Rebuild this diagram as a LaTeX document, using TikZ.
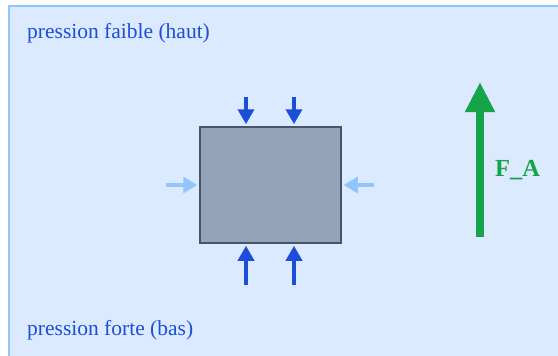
\documentclass[tikz,border=0pt]{standalone}
\usepackage{fontspec}
\setmainfont{Liberation Serif}
\usetikzlibrary{arrows.meta,positioning}
\definecolor{bgblue}{HTML}{DBEAFE}
\definecolor{edgeblue}{HTML}{93C5FD}
\definecolor{pushblue}{HTML}{1D4ED8}
\definecolor{slatefill}{HTML}{94A3B8}
\definecolor{slateedge}{HTML}{475569}
\definecolor{liftgreen}{HTML}{16A34A}
\begin{document}
\begin{tikzpicture}[x=1pt,y=-1pt,
  block/.style={draw=slateedge,fill=slatefill,line width=2.5pt,
    minimum width=141pt,minimum height=116pt,inner sep=0pt},
  push/.style={pushblue,line width=3.5pt,shorten >=1.5pt,
    -{Triangle[length=15pt,width=16pt]}},
  sidepush/.style={edgeblue,line width=3.5pt,shorten >=1.5pt,
    -{Triangle[length=14pt,width=16pt]}},
  lift/.style={liftgreen,line width=8pt,
    -{Triangle[length=30pt,width=28pt]}},
  caption/.style={anchor=west,text=pushblue,inner sep=0pt,
    font=\fontsize{21.5}{25}\selectfont}]
  \useasboundingbox (0,0) rectangle (558,356);
  % background region
  \fill[bgblue] (9,6) rectangle (562,360);
  \draw[edgeblue,line width=2pt] (9,360) -- (9,6) -- (562,6);
  \node[caption] (low) at (27,33) {pression faible (haut)};
  \node[caption] (high) at (27,330) {pression forte (bas)};
  % body
  \node[block] (box) at (270.5,185) {};
  \coordinate (t1) at (246,97);
  \coordinate (t2) at (294,97);
  \coordinate (b1) at (246,285);
  \coordinate (b2) at (294,285);
  \coordinate (sl) at (166,185);
  \coordinate (sr) at (374,185);
  \draw[push] (t1) -- (t1 |- box.north);
  \draw[push] (t2) -- (t2 |- box.north);
  \draw[push] (b1) -- (b1 |- box.south);
  \draw[push] (b2) -- (b2 |- box.south);
  \draw[sidepush] (sl) -- (box.west);
  \draw[sidepush] (sr) -- (box.east);
  % buoyancy
  \coordinate (fbase) at (480,237);
  \coordinate (ftip) at (480,82);
  \draw[lift] (fbase) -- (ftip);
  \node[anchor=west,text=liftgreen,inner sep=0pt,
    font=\fontsize{24.5}{28}\selectfont\bfseries] (fa) at (495,170) {F\_A};
\end{tikzpicture}
\end{document}
